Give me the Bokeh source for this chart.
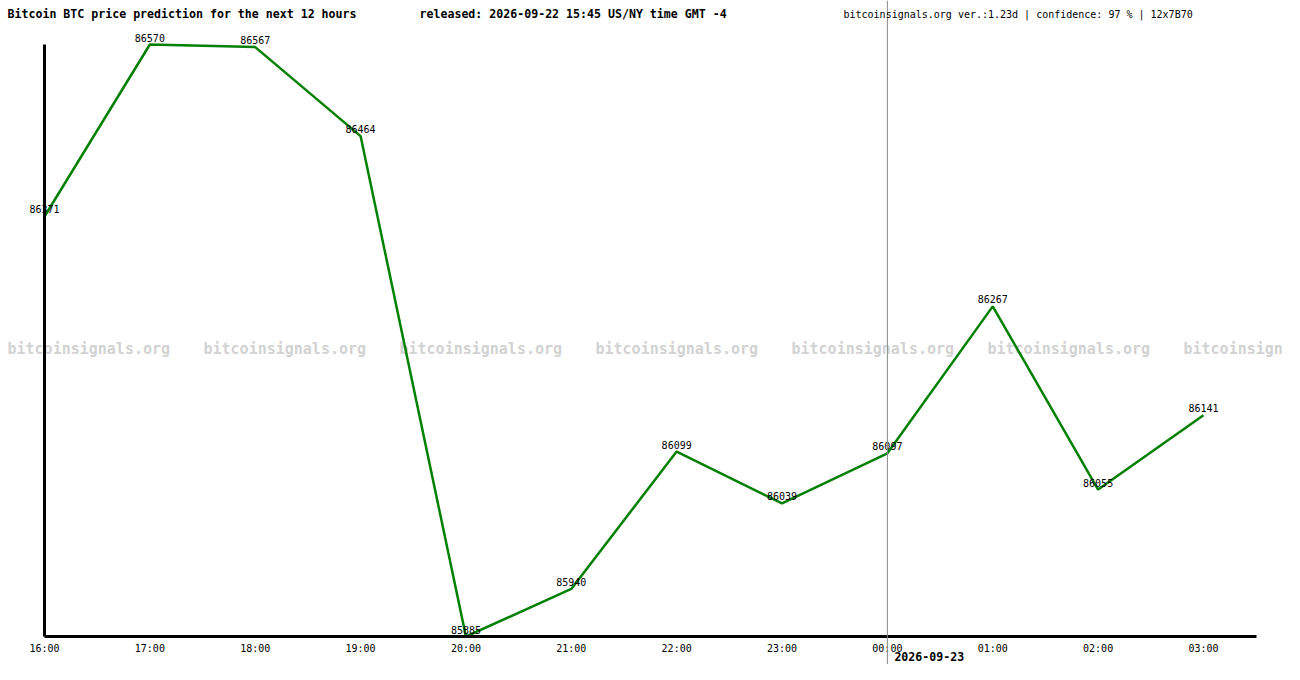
from bokeh.plotting import figure
from bokeh.models import Range1d, LinearAxis, FixedTicker, Span, Label, ColumnDataSource
from bokeh.core.properties import value
from bokeh.embed import file_html
from bokeh.resources import INLINE

# ---- data ----
hours = ["16:00", "17:00", "18:00", "19:00", "20:00", "21:00",
         "22:00", "23:00", "00:00", "01:00", "02:00", "03:00"]
prices = [86371, 86570, 86567, 86464, 85885, 85940,
          86099, 86039, 86097, 86267, 86055, 86141]
title_text = "Bitcoin BTC price prediction for the next 12 hours"
released_text = "released: 2026-09-22 15:45 US/NY time GMT -4"
info_text = "bitcoinsignals.org ver.:1.23d | confidence: 97 % | 12x7B70"
watermark_text = "bitcoinsignals.org"
next_day_label = "2026-09-23"
next_day_index = hours.index("00:00")

xs = list(range(len(hours)))

# ---- layout (pixels) ----
W, H = 1284, 664
X0_PX = 44          # pixel of first hour
HOUR_PX = 105.36    # pixels per hour
YTOP_PX = 44        # pixel of max price
YBOT_PX = 636       # pixel of min price (x axis line)

y_min, y_max = min(prices), max(prices)
ppu = (YBOT_PX - YTOP_PX) / (y_max - y_min)
x_start = -X0_PX / HOUR_PX
x_end = (W - X0_PX) / HOUR_PX
y_end = y_max + YTOP_PX / ppu
y_start = y_min - (H - YBOT_PX) / ppu

MONO = "DejaVu Sans Mono"

p = figure(width=W, height=H, output_backend="svg", toolbar_location=None,
           x_axis_type=None, y_axis_type=None,
           x_range=Range1d(x_start, x_end), y_range=Range1d(y_start, y_end),
           min_border=0, outline_line_color=None)
p.background_fill_color = "white"
p.border_fill_color = "white"

# watermark (last copy is cut by the picture's right edge in the reference)
CHAR_W = 9.03
for i in range(7):
    x0 = 7 + 196 * i
    n_fit = int((W - x0) // CHAR_W)
    txt = watermark_text[:n_fit]
    p.add_layout(Label(x=x0, y=H - 348.5, x_units="screen", y_units="screen",
                       text=txt, text_font=MONO, text_font_size="15px",
                       text_font_style="bold", text_color="#d2d2d2",
                       text_baseline="middle", text_align="left", level="underlay"))

# price line
src = ColumnDataSource(dict(x=xs, y=prices, label=[str(v) for v in prices]))
p.line("x", "y", source=src, line_color="#008000", line_width=2.5)
p.text("x", "y", text="label", source=src, text_align="center", text_baseline="bottom",
       y_offset=-3, text_font=value(MONO), text_font_size=value("10px"), text_color="black")

# midnight line
p.add_layout(Span(location=next_day_index, dimension="height",
                  line_color="#888888", line_width=1))

# axes
xaxis = LinearAxis(fixed_location=y_min, bounds=(0, 11.5),
                   ticker=FixedTicker(ticks=xs),
                   major_label_overrides={i: h for i, h in zip(xs, hours)},
                   axis_line_width=3, axis_line_color="black",
                   major_tick_line_color=None, minor_tick_line_color=None,
                   major_tick_in=0, major_tick_out=0, major_label_standoff=6,
                   major_label_text_font=MONO, major_label_text_font_size="10px",
                   major_label_text_color="black")
p.add_layout(xaxis, "below")

yaxis = LinearAxis(fixed_location=0, bounds=(y_min, y_max),
                   ticker=FixedTicker(ticks=[]),
                   axis_line_width=3, axis_line_color="black",
                   major_tick_line_color=None, minor_tick_line_color=None,
                   major_label_text_font_size="0px")
p.add_layout(yaxis, "left")

# header texts
for x, t, bold, size in [(7, title_text, True, "11.6px"),
                         (419, released_text, True, "11.6px"),
                         (843, info_text, False, "10px")]:
    p.add_layout(Label(x=x, y=H - 13.5, x_units="screen", y_units="screen", text=t,
                       text_font=MONO, text_font_size=size,
                       text_font_style="bold" if bold else "normal",
                       text_color="black", text_baseline="middle", text_align="left"))

# next day label
p.add_layout(Label(x=next_day_index, y=y_min, x_offset=7, y_offset=-20,
                   text=next_day_label, text_font=MONO, text_font_size="11.6px",
                   text_font_style="bold", text_color="black",
                   text_baseline="middle", text_align="left"))

open("out.html", "w").write(file_html(p, INLINE))
